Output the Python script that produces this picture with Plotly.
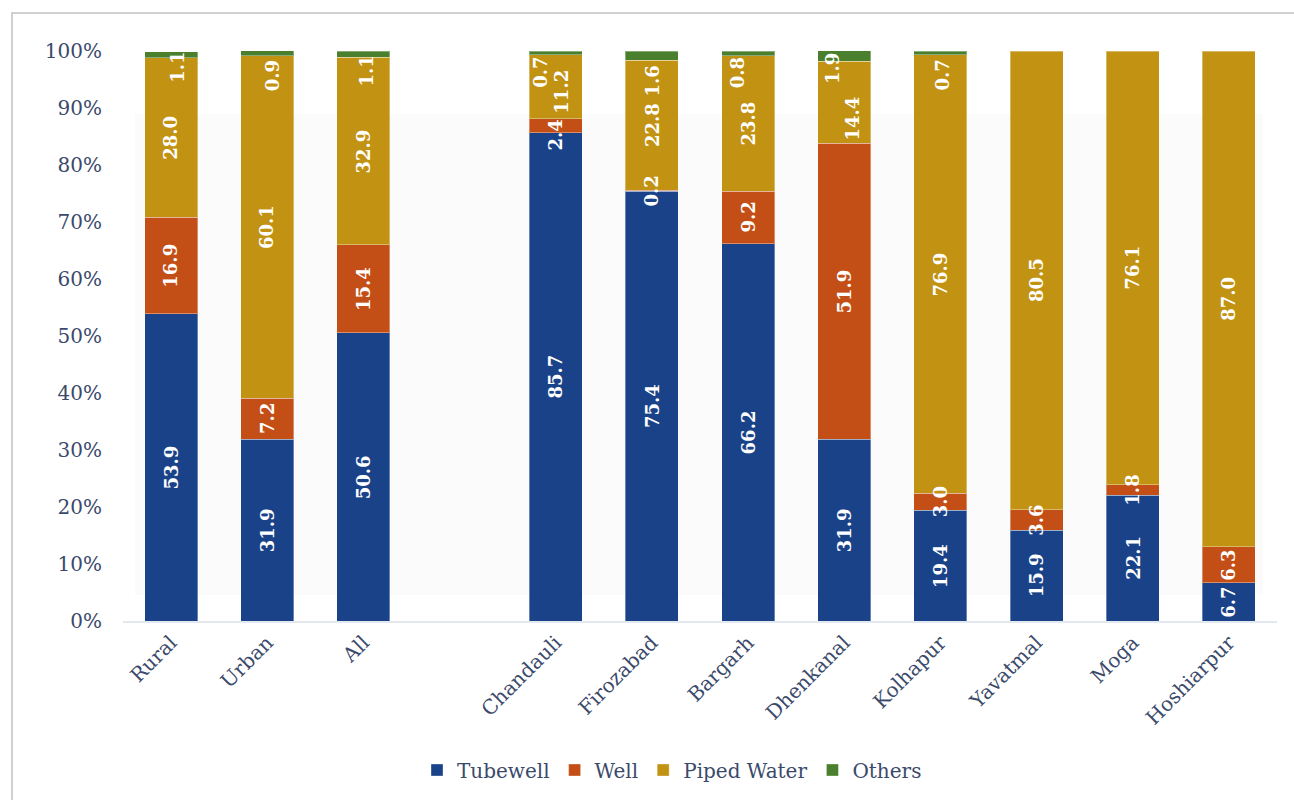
import plotly.graph_objects as go

# Source of drinking water, % of households
categories = ["Rural", "Urban", "All", " ", "Chandauli", "Firozabad", "Bargarh",
              "Dhenkanal", "Kolhapur", "Yavatmal", "Moga", "Hoshiarpur"]
tubewell = [53.9, 31.9, 50.6, None, 85.7, 75.4, 66.2, 31.9, 19.4, 15.9, 22.1, 6.7]
well = [16.9, 7.2, 15.4, None, 2.4, 0.2, 9.2, 51.9, 3.0, 3.6, 1.8, 6.3]
piped_water = [28.0, 60.1, 32.9, None, 11.2, 22.8, 23.8, 14.4, 76.9, 80.5, 76.1, 87.0]
others = [1.1, 0.9, 1.1, None, 0.7, 1.6, 0.8, 1.9, 0.7, None, None, None]
y_ticks = [0, 10, 20, 30, 40, 50, 60, 70, 80, 90, 100]

series = [
    ("Tubewell", tubewell, "#1A4289"),
    ("Well", well, "#C34F17"),
    ("Piped Water", piped_water, "#C29213"),
    ("Others", others, "#4A7F2D"),
]

# pixel nudges for crowded value labels: (category, series) -> (dx, dy)
label_nudge = {
    ("Rural", "Others"): (7, -13),
    ("Urban", "Others"): (5, -23),
    ("All", "Others"): (3, -17),
    ("Chandauli", "Others"): (-16, -19),
    ("Chandauli", "Piped Water"): (6, -5),
    ("Chandauli", "Well"): (0, -9),
    ("Firozabad", "Others"): (1, -25),
    ("Bargarh", "Others"): (-11, -20),
    ("Dhenkanal", "Others"): (-11, -13),
    ("Dhenkanal", "Piped Water"): (8, -16),
    ("Kolhapur", "Others"): (2, -22),
}

TEXT = "#3B4A6B"
FONT = "Georgia, 'DejaVu Serif', serif"

fig = go.Figure()
for name, vals, color in series:
    fig.add_trace(go.Bar(
        name=name, x=categories, y=vals,
        marker=dict(color=color, line=dict(color="rgba(255,255,255,0.35)", width=1)),
        hoverinfo="x+y+name",
    ))

# value labels centred on each segment
annotations = []
base = [0.0] * len(categories)
for name, vals, color in series:
    for i, (cat, v) in enumerate(zip(categories, vals)):
        if v is None:
            continue
        dx, dy = label_nudge.get((cat, name), (0, 0))
        annotations.append(dict(
            x=cat, y=base[i] + v / 2, xref="x", yref="y",
            text=f"{v:.1f}", textangle=-90, showarrow=False,
            xshift=dx, yshift=dy,
            font=dict(family=FONT, size=18, color="white", weight="bold"),
        ))
        base[i] += v

W, H = 1294, 800
L, R, T, B = 123, 17, 51, 179
pw, ph = W - L - R, H - T - B

def px_x(px):
    return (px - L) / pw

def px_y(py):
    return (H - B - py) / ph

shapes = [
    # soft panel behind the bars
    dict(type="rect", xref="paper", yref="paper", layer="below",
         x0=px_x(135), x1=px_x(1263), y0=px_y(595), y1=px_y(114),
         fillcolor="#FBFBFB", line=dict(width=0)),
    # outer frame
    dict(type="rect", xref="paper", yref="paper", layer="below",
         x0=px_x(12), x1=px_x(1330), y0=px_y(830), y1=px_y(13),
         fillcolor="rgba(0,0,0,0)", line=dict(color="#D0D0D0", width=2)),
]

fig.update_layout(
    width=W, height=H,
    margin=dict(l=L, r=R, t=T, b=B, autoexpand=False),
    barmode="stack", bargap=0.45,
    plot_bgcolor="rgba(0,0,0,0)", paper_bgcolor="white",
    font=dict(family=FONT, size=20, color=TEXT),
    annotations=annotations, shapes=shapes,
    legend=dict(orientation="h", x=px_x(672), xanchor="center",
                y=px_y(770), yanchor="middle",
                font=dict(family=FONT, size=20, color=TEXT),
                itemwidth=30, traceorder="normal"),
    xaxis=dict(type="category", categoryorder="array", categoryarray=categories,
               tickangle=-45, showgrid=False, showline=True,
               linecolor="#E3E7F0", linewidth=2, ticks="",
               tickfont=dict(family=FONT, size=20, color=TEXT)),
    yaxis=dict(range=[0, 100], tickvals=y_ticks,
               ticktext=[f"{t}%" for t in y_ticks],
               showgrid=False, zeroline=False, showline=False, ticks="",
               ticklabelstandoff=20,
               tickfont=dict(family=FONT, size=20, color=TEXT)),
)

fig.write_html("out.html")
